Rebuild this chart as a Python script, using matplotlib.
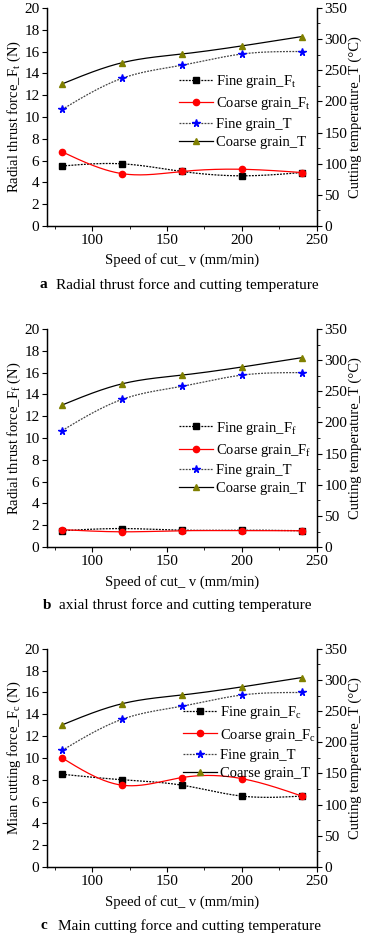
import numpy as np
import matplotlib
matplotlib.use("Agg")
import matplotlib.pyplot as plt

plt.rcParams['font.family'] = ['Liberation Serif', 'DejaVu Serif']
plt.rcParams['mathtext.fontset'] = 'custom'
plt.rcParams['mathtext.rm'] = 'Liberation Serif'
plt.rcParams['mathtext.it'] = 'Liberation Serif'
plt.rcParams['font.size'] = 8

speed = [80, 120, 160, 200, 240]

# cutting temperature (same in all three panels)
temp_fine = [187, 237, 258, 276, 280]
temp_coarse = [228, 262, 276, 289, 304]

# radial thrust force F_t
ft_fine = [5.5, 5.7, 5.0, 4.6, 4.9]
ft_coarse = [6.8, 4.8, 5.0, 5.2, 4.9]

# axial thrust force F_f
ff_fine = [1.5, 1.7, 1.55, 1.55, 1.5]
ff_coarse = [1.6, 1.4, 1.5, 1.5, 1.5]

# main cutting force F_c
fc_fine = [8.5, 8.0, 7.5, 6.5, 6.5]
fc_coarse = [10.0, 7.5, 8.2, 8.1, 6.5]

panels = [
    ("t", "Radial thrust force_F$_\\mathrm{t}$ (N)", ft_fine, ft_coarse,
     "a", "Radial thrust force and cutting temperature", (0.49, 0.70)),
    ("f", "Radial thrust force_F$_\\mathrm{f}$ (N)", ff_fine, ff_coarse,
     "b", "axial thrust force and cutting temperature", (0.49, 0.585)),
    ("c", "Mian cutting force_F$_\\mathrm{c}$ (N)", fc_fine, fc_coarse,
     "c", "Main cutting force and cutting temperature", (0.505, 0.745)),
]
caption_x = [0.152, 0.16, 0.155]


def smooth(x, y, n=200):
    # natural cubic spline through the data points, only for drawing the line
    x = np.asarray(x, float)
    y = np.asarray(y, float)
    h = np.diff(x)
    k = len(x)
    A = np.zeros((k, k))
    r = np.zeros(k)
    A[0, 0] = A[-1, -1] = 1
    for i in range(1, k - 1):
        A[i, i - 1] = h[i - 1]
        A[i, i] = 2 * (h[i - 1] + h[i])
        A[i, i + 1] = h[i]
        r[i] = 6 * ((y[i + 1] - y[i]) / h[i] - (y[i] - y[i - 1]) / h[i - 1])
    m = np.linalg.solve(A, r)
    xs = np.linspace(x[0], x[-1], n)
    idx = np.clip(np.searchsorted(x, xs) - 1, 0, k - 2)
    x0, x1 = x[idx], x[idx + 1]
    hh = x1 - x0
    a = (x1 - xs) / hh
    b = (xs - x0) / hh
    ys = a * y[idx] + b * y[idx + 1] + ((a ** 3 - a) * m[idx] + (b ** 3 - b) * m[idx + 1]) * hh ** 2 / 6
    return xs, ys


def series(ax, y, color, ls, marker, mfc, ms, label):
    xs, ys = smooth(speed, y)
    ax.plot(xs, ys, color=color, ls=ls, lw=0.9)
    ax.plot(speed, y, ls='none', marker=marker, color=mfc, ms=ms)
    return plt.Line2D([], [], color=color, ls=ls, lw=0.9, marker=marker,
                      mfc=mfc, mec=mfc, ms=ms, label=label)


fig = plt.figure(figsize=(3.71, 9.40), dpi=100)
bottoms = [0.7596, 0.418, 0.0777]
xlabel_y = [0.723, 0.381, 0.040]
caption_y = [0.697, 0.356, 0.015]

for (sub, ylab, fine, coarse, letter, cap, leg_pos), b, xl_y, cap_y, cx in zip(
        panels, bottoms, xlabel_y, caption_y, caption_x):
    ax = fig.add_axes([0.127, b, 0.727, 0.232])
    ax2 = ax.twinx()
    h1 = series(ax, fine, 'black', (0, (1.5, 1)), 's', 'black', 4, "Fine grain_F$_\\mathrm{%s}$" % sub)
    h2 = series(ax, coarse, 'red', '-', 'o', 'red', 4.5, "Coarse grain_F$_\\mathrm{%s}$" % sub)
    h3 = series(ax2, temp_fine, '#444444', (0, (1.5, 1)), '*', 'blue', 5.5, "Fine grain_T")
    h4 = series(ax2, temp_coarse, 'black', '-', '^', '#808000', 5, "Coarse grain_T")

    ax.set_xlim(70, 250)
    ax.set_ylim(0, 20)
    ax.set_yticks(range(0, 21, 2))
    ax.set_xticks([100, 150, 200, 250])
    ax.set_xticks([75, 125, 175, 225], minor=True)
    ax2.set_ylim(0, 350)
    ax2.set_yticks(range(0, 351, 50))
    ax2.set_yticks(range(25, 350, 50), minor=True)
    for a_ in (ax, ax2):
        a_.spines['top'].set_visible(False)
        a_.tick_params(which='major', direction='out', length=3.5, width=0.8, labelsize=11, pad=2)
        a_.tick_params(which='minor', direction='out', length=2, width=0.6)
        for s in a_.spines.values():
            s.set_linewidth(0.9)
    ax.set_ylabel(ylab, fontsize=10.5, labelpad=1)
    ax2.set_ylabel("Cutting temperature_T (°C)", fontsize=10.5, labelpad=1)
    fig.text(0.49, xl_y, "Speed of cut_ v (mm/min)", ha='center', va='center', fontsize=10.5)
    fig.text(cx - 0.045, cap_y, letter, ha='left', va='center', fontsize=11, fontweight='bold')
    fig.text(cx, cap_y, cap, ha='left', va='center', fontsize=11)

    ax.legend(handles=[h1, h2, h3, h4], loc='upper left', bbox_to_anchor=leg_pos,
              frameon=False, fontsize=10.5, handlelength=2.3, handletextpad=0.2,
              labelspacing=0.35, borderpad=0, borderaxespad=0)

fig.savefig("out.png", dpi=100)
